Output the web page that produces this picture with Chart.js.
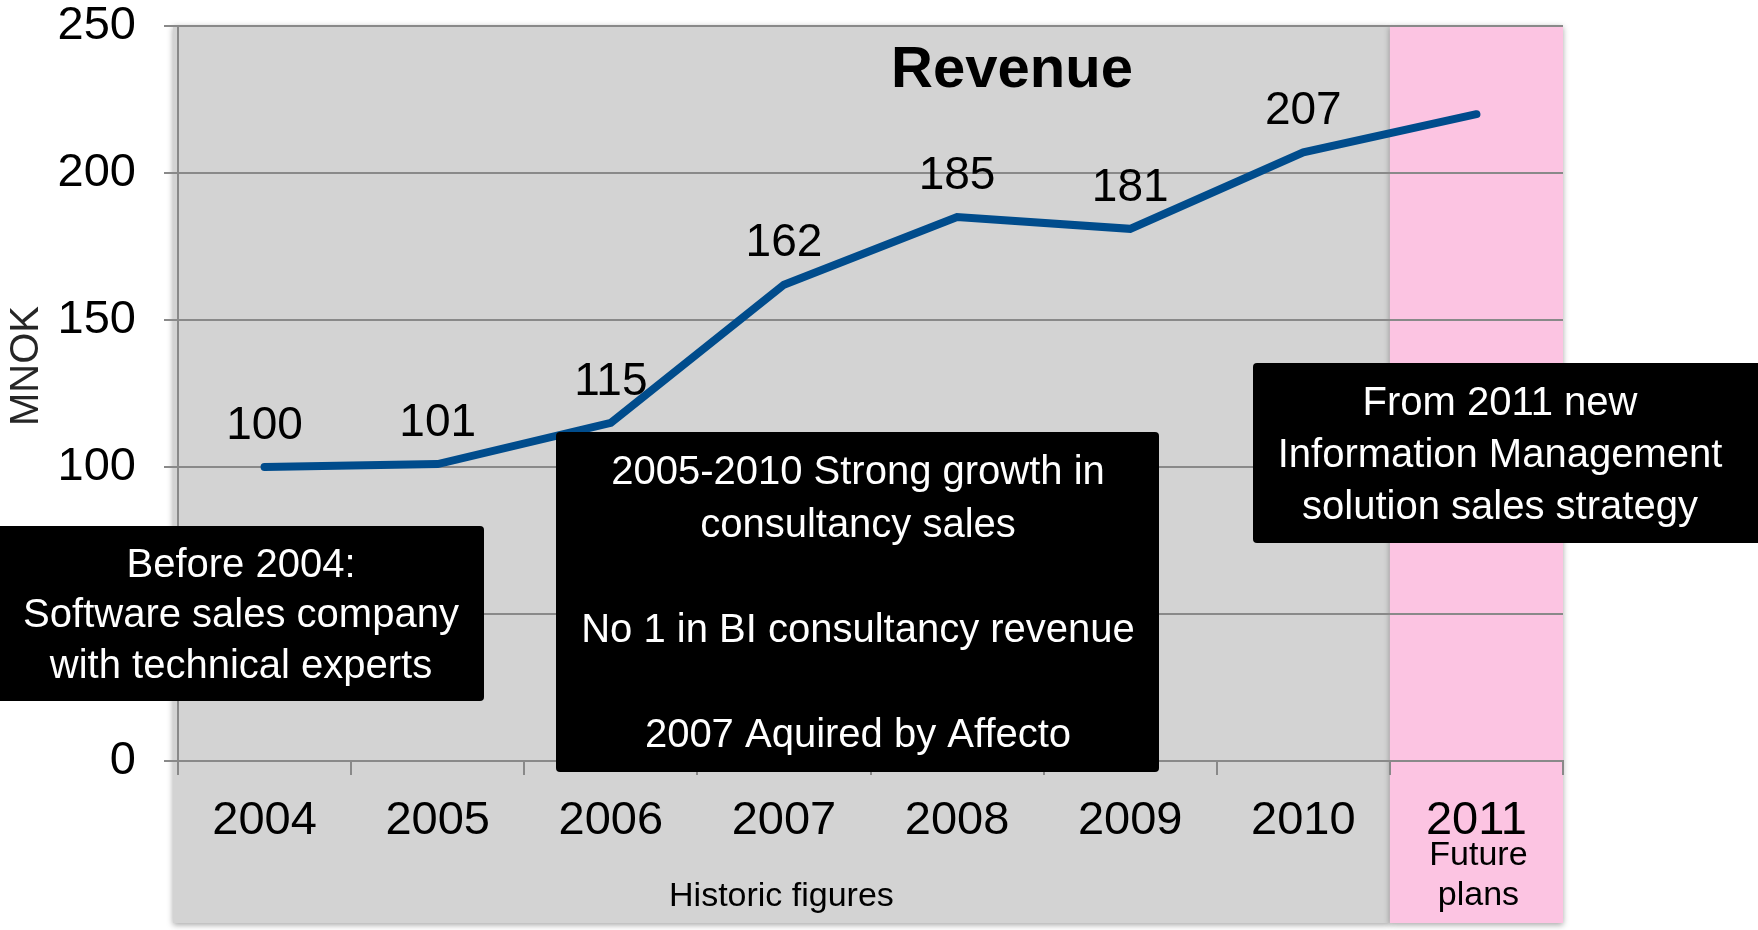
<!DOCTYPE html>
<html>
<head>
<meta charset="utf-8">
<title>Revenue</title>
<script src="https://cdn.jsdelivr.net/npm/chart.js@4.4.1/dist/chart.umd.min.js"></script>
<style>
  html, body { margin: 0; padding: 0; background: #ffffff; overflow: hidden; }
  canvas { display: block; }
</style>
</head>
<body>
<canvas id="revenueChart" width="1758" height="930"></canvas>
<script>
// Revenue per year, MNOK
const years = ['2004', '2005', '2006', '2007', '2008', '2009', '2010', '2011'];
const revenue = [100, 101, 115, 162, 185, 181, 207, 220];
const showValue = [true, true, true, true, true, true, true, false];

// Value axis
const yMin = 0;
const yMax = 250;
const yStep = 50;

// Texts
const chartTitle = 'Revenue';
const axisTitle = 'MNOK';
const historicLabel = ['Historic figures'];
const futureLabel = ['Future', 'plans'];
const noteBefore = ['Before 2004:', 'Software sales company', 'with technical experts'];
const noteGrowth = ['2005-2010 Strong growth in', 'consultancy sales', '', 'No 1 in BI consultancy revenue', '', '2007 Aquired by Affecto'];
const noteFuture = ['From 2011 new', 'Information Management', 'solution sales strategy'];

const FONT = "'Liberation Sans', Arial, Helvetica, sans-serif";
Chart.defaults.font.family = FONT;

const GRID = '#898989';
const PANEL_BOTTOM = 923;

function panelSplit(chart) {
  const x = chart.scales.x;
  const half = (x.getPixelForValue(1) - x.getPixelForValue(0)) / 2;
  return x.getPixelForValue(years.length - 1) - half;
}

// grey "historic" panel and pink "future" panel behind the plot
const backdrop = {
  id: 'backdrop',
  beforeDraw(chart) {
    const { ctx, chartArea: a } = chart;
    const split = panelSplit(chart);
    const left = a.left - 5;
    const top = a.top - 1;
    ctx.save();
    ctx.shadowColor = 'rgba(0,0,0,0.35)';
    ctx.shadowBlur = 6;
    ctx.shadowOffsetY = 2;
    ctx.fillStyle = '#d3d3d3';
    ctx.fillRect(left, top, split - left, PANEL_BOTTOM - top);
    ctx.fillStyle = '#fcc4e2';
    ctx.fillRect(split, top, a.right - split, PANEL_BOTTOM - top);
    ctx.restore();
  }
};

function drawNote(ctx, box, lines, baseline, lineHeight, cx) {
  ctx.fillStyle = '#000000';
  ctx.beginPath();
  ctx.roundRect(box.x, box.y, box.w, box.h, 4);
  ctx.fill();
  ctx.fillStyle = '#ffffff';
  ctx.font = '40px ' + FONT;
  ctx.textAlign = 'center';
  ctx.textBaseline = 'alphabetic';
  lines.forEach((t, i) => {
    if (t) ctx.fillText(t, cx, baseline + i * lineHeight);
  });
}

// value labels, titles and the black note boxes
const overlay = {
  id: 'overlay',
  afterDatasetsDraw(chart) {
    const { ctx, chartArea: a } = chart;
    const meta = chart.getDatasetMeta(0);
    const split = panelSplit(chart);
    ctx.save();

    // value labels above the line
    ctx.fillStyle = '#000000';
    ctx.font = '46px ' + FONT;
    ctx.textAlign = 'center';
    ctx.textBaseline = 'middle';
    meta.data.forEach((pt, i) => {
      if (showValue[i]) ctx.fillText(String(revenue[i]), pt.x, pt.y - 41);
    });

    // chart title inside the plot
    ctx.font = 'bold 58px ' + FONT;
    ctx.textBaseline = 'alphabetic';
    ctx.fillText(chartTitle, 1012, 87);

    // value axis title
    ctx.save();
    ctx.translate(27, 366);
    ctx.rotate(-Math.PI / 2);
    ctx.fillStyle = '#262626';
    ctx.font = '40px ' + FONT;
    ctx.textBaseline = 'middle';
    ctx.fillText(axisTitle, 0, 0);
    ctx.restore();

    // period captions under the year labels
    ctx.fillStyle = '#000000';
    ctx.font = '34px ' + FONT;
    ctx.textBaseline = 'alphabetic';
    ctx.fillText(historicLabel[0], (a.left - 5 + split) / 2, 906);
    const fx = chart.scales.x.getPixelForValue(years.length - 1) + 2;
    futureLabel.forEach((t, i) => ctx.fillText(t, fx, 865 + i * 40));

    // notes
    drawNote(ctx, { x: -4, y: 526, w: 488, h: 175 }, noteBefore, 577, 50.3, 241);
    drawNote(ctx, { x: 556, y: 432, w: 603, h: 340 }, noteGrowth, 484, 52.5, 858);
    drawNote(ctx, { x: 1253, y: 363, w: 510, h: 180 }, noteFuture, 415, 52, 1500);

    ctx.restore();
  }
};

new Chart(document.getElementById('revenueChart'), {
  type: 'line',
  data: {
    labels: years,
    datasets: [{
      label: chartTitle,
      data: revenue,
      borderColor: '#004c8c',
      borderWidth: 8,
      pointRadius: 0,
      pointHoverRadius: 0,
      tension: 0,
      fill: false,
      borderCapStyle: 'round',
      borderJoinStyle: 'miter'
    }]
  },
  options: {
    responsive: false,
    animation: false,
    devicePixelRatio: 1,
    events: [],
    layout: { padding: { left: 0, right: 195, top: 26, bottom: 0 } },
    plugins: {
      legend: { display: false },
      tooltip: { enabled: false },
      title: { display: false }
    },
    scales: {
      x: {
        offset: true,
        grid: {
          offset: true,
          drawOnChartArea: false,
          drawTicks: true,
          tickLength: 14,
          color: GRID,
          lineWidth: 2
        },
        border: { display: true, color: GRID, width: 2 },
        ticks: {
          color: '#000000',
          font: { size: 47 },
          padding: 18,
          maxRotation: 0,
          autoSkip: false
        },
        afterFit(scale) {
          scale.height = 169;
          scale.paddingLeft = 0;
          scale.paddingRight = 0;
        }
      },
      y: {
        min: yMin,
        max: yMax,
        ticks: {
          stepSize: yStep,
          color: '#000000',
          font: { size: 47, lineHeight: 1 },
          padding: 28
        },
        grid: { color: GRID, lineWidth: 2, tickLength: 14 },
        border: { display: true, color: GRID, width: 2 },
        afterFit(scale) {
          scale.width = 178;
          scale.paddingTop = 0;
          scale.paddingBottom = 0;
        }
      }
    }
  },
  plugins: [backdrop, overlay]
});
</script>
</body>
</html>
